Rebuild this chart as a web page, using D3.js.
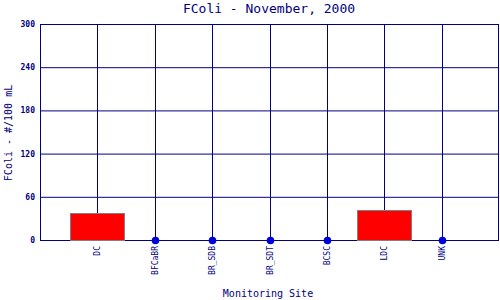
<!DOCTYPE html>
<html><head><meta charset="utf-8">
<script src="https://cdn.jsdelivr.net/npm/d3@7"></script>
<style>body{margin:0;background:#fff}svg{display:block}</style>
</head><body>
<script>
const categories = ["DC","BFCaBR","BR_SDB","BR_SDT","BCSC","LDC","UNK"];
const values = [37, 0, 0, 0, 0, 41, 0];
const yTicks = [0, 60, 120, 180, 240, 300];
const title = "FColi - November, 2000";
const xLabel = "Monitoring Site";
const yLabel = "FColi - #/100 mL";

const W = 500, H = 300;
const m = {left: 40, right: 1, top: 24, bottom: 60};
const navy = "#000080";
const mono = "'DejaVu Sans Mono', monospace";

const svg = d3.select("body").append("svg").attr("width", W).attr("height", H);
const x = d3.scaleLinear().domain([0, categories.length + 1]).range([m.left, W - m.right]);
const y = d3.scaleLinear().domain([0, 300]).range([H - m.bottom, m.top]);

// horizontal grid
svg.append("g").selectAll("line").data(yTicks).join("line")
  .attr("x1", m.left).attr("x2", W - m.right)
  .attr("y1", d => y(d) + 0.5).attr("y2", d => y(d) + 0.5)
  .attr("stroke", navy).attr("stroke-width", 1);
// vertical grid at categories
svg.append("g").selectAll("line").data(categories).join("line")
  .attr("x1", (d, i) => Math.round(x(i + 1)) + 0.5).attr("x2", (d, i) => Math.round(x(i + 1)) + 0.5)
  .attr("y1", m.top).attr("y2", H - m.bottom)
  .attr("stroke", navy).attr("stroke-width", 1);
// frame left and right
svg.append("line").attr("x1", m.left + 0.5).attr("x2", m.left + 0.5).attr("y1", m.top).attr("y2", H - m.bottom).attr("stroke", navy);
svg.append("line").attr("x1", W - m.right - 0.5).attr("x2", W - m.right - 0.5).attr("y1", m.top).attr("y2", H - m.bottom).attr("stroke", navy);

// bars
const bw = 54;
const data = categories.map((c, i) => ({c, v: values[i], i}));
svg.append("g").selectAll("rect").data(data.filter(d => d.v > 0)).join("rect")
  .attr("x", d => Math.round(x(d.i + 1) - bw / 2) + 0.5)
  .attr("y", d => Math.round(y(d.v)) + 0.5)
  .attr("width", bw)
  .attr("height", d => Math.round(y(0)) - Math.round(y(d.v)))
  .attr("fill", "#ff0000").attr("stroke", "#808080").attr("stroke-width", 1);
// zero-value dots
svg.append("g").selectAll("circle").data(data.filter(d => d.v === 0)).join("circle")
  .attr("cx", d => Math.round(x(d.i + 1)) + 0.5)
  .attr("cy", y(0) + 0.5)
  .attr("r", 3.8)
  .attr("fill", "#0000dd");

// y tick labels
svg.append("g").selectAll("text").data(yTicks).join("text")
  .attr("x", 35).attr("y", d => y(d) + 3)
  .attr("text-anchor", "end")
  .attr("font-family", mono).attr("font-size", 8).attr("font-weight", "bold")
  .attr("fill", navy).text(d => d);

// category labels
svg.append("g").selectAll("text").data(categories).join("text")
  .attr("transform", (d, i) => `translate(${x(i + 1) + 3},${246}) rotate(-90)`)
  .attr("text-anchor", "end")
  .attr("font-family", mono).attr("font-size", 8)
  .attr("fill", navy).text(d => d);

// title
svg.append("text").attr("x", 269).attr("y", 13).attr("text-anchor", "middle")
  .attr("font-family", mono).attr("font-size", 13).attr("fill", navy).text(title);
// x label
svg.append("text").attr("x", 268).attr("y", 297).attr("text-anchor", "middle")
  .attr("font-family", mono).attr("font-size", 10).attr("fill", navy).text(xLabel);
// y label
svg.append("text").attr("transform", `translate(12,${133}) rotate(-90)`).attr("text-anchor", "middle")
  .attr("font-family", mono).attr("font-size", 10).attr("fill", navy).text(yLabel);
</script>
</body></html>
